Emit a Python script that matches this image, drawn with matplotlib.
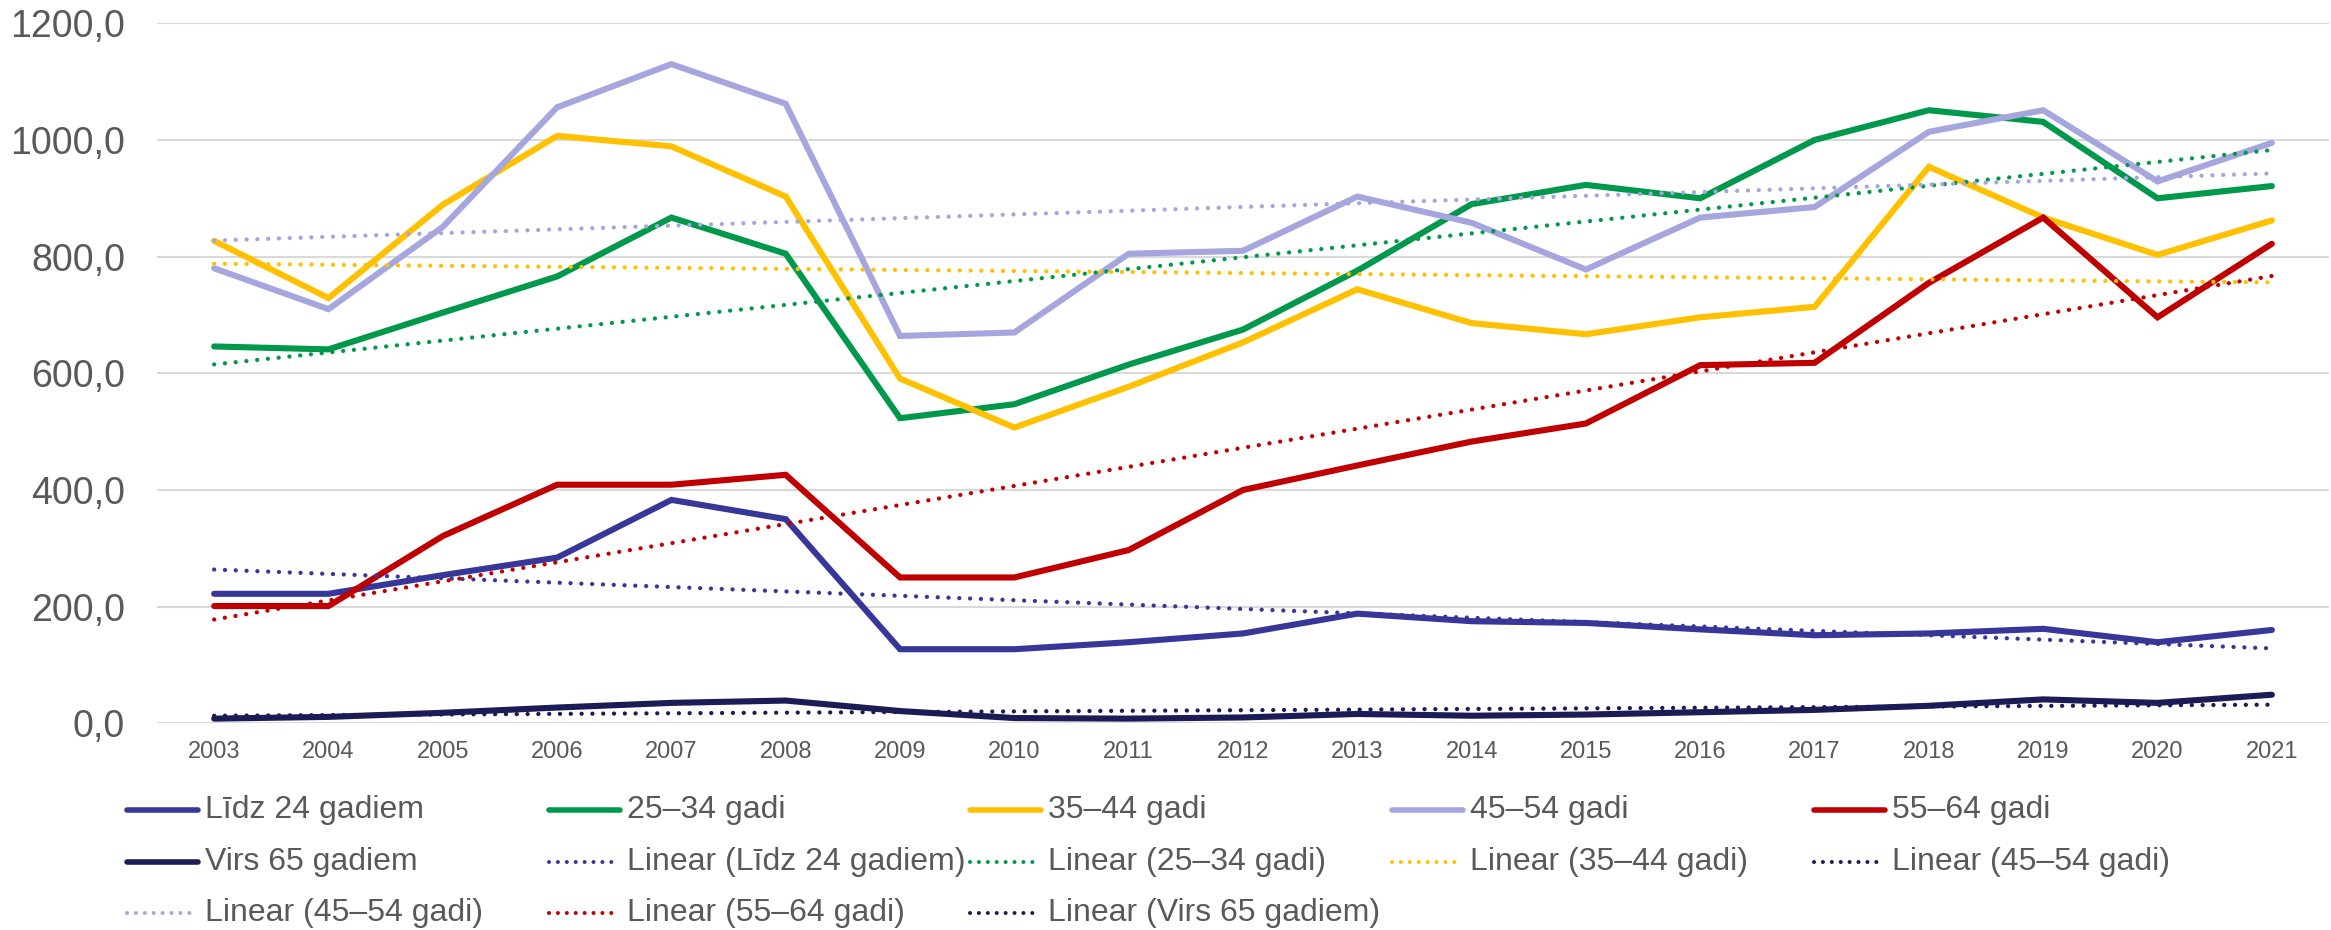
import numpy as np
import matplotlib
matplotlib.use('Agg')
import matplotlib.pyplot as plt
from matplotlib.lines import Line2D

# ---- data ----
years = [str(y) for y in range(2003, 2022)]
lidz24 = [222, 222, 254, 284, 383, 350, 127, 127, 139, 154, 188, 175, 172, 161, 151, 154, 162, 139, 160]
g25_34 = [646, 641, 704, 766, 867, 805, 523, 547, 615, 675, 776, 890, 923, 900, 1000, 1051, 1031, 900, 921]
g35_44 = [827, 729, 889, 1007, 989, 903, 591, 507, 577, 653, 744, 686, 667, 696, 714, 954, 867, 803, 862]
g45_54 = [780, 710, 851, 1056, 1130, 1062, 664, 670, 805, 810, 903, 858, 778, 867, 885, 1014, 1051, 929, 995]
g55_64 = [201, 201, 321, 409, 409, 426, 250, 250, 297, 400, 442, 483, 514, 614, 618, 755, 867, 696, 822]
virs65 = [8, 11, 18, 27, 35, 39, 21, 9, 8, 10, 16, 13, 15, 19, 23, 30, 41, 35, 49]

names = ["Līdz 24 gadiem", "25–34 gadi", "35–44 gadi", "45–54 gadi", "55–64 gadi", "Virs 65 gadiem"]
series = [lidz24, g25_34, g35_44, g45_54, g55_64, virs65]
colors = ["#373799", "#00994C", "#FFC000", "#A6A6DF", "#C00000", "#1B1B55"]
yticks = [0, 200, 400, 600, 800, 1000, 1200]

W, H = 2331, 930
plt.rcParams['font.family'] = ['Liberation Sans', 'DejaVu Sans']
fig = plt.figure(figsize=(W / 100, H / 100), dpi=100)
ax = fig.add_axes([157 / W, 1 - 723.3 / H, (2329 - 157) / W, (723.3 - 23.3) / H])

x = np.arange(len(years))
for vals, c in zip(series, colors):
    ax.plot(x, vals, color=c, lw=4.4, solid_capstyle='round', solid_joinstyle='miter', zorder=3)

dot = (0, (0.01, 2.5))
for vals, c in zip(series, colors):
    k, b = np.polyfit(x, np.array(vals, float), 1)
    ax.plot(x, k * x + b, color=c, lw=3.1, linestyle=dot, dash_capstyle='round', zorder=4)

ax.set_xlim(-0.5, len(years) - 0.5)
ax.set_ylim(0, 1200)
ax.set_yticks(yticks)
ax.set_yticklabels([f"{v:.1f}".replace('.', ',') for v in yticks])
ax.set_xticks(x)
ax.set_xticklabels(years)
ax.tick_params(axis='y', length=0, pad=23, labelsize=27, labelcolor='#595959')
ax.tick_params(axis='x', length=0, pad=13, labelsize=17, labelcolor='#595959')
for s in ax.spines.values():
    s.set_visible(False)
ax.grid(axis='y', color='#D9D9D9', lw=1.5, zorder=0)
ax.set_axisbelow(True)

# ---- legend (row-major like the original) ----
entries = [
    ("Līdz 24 gadiem", colors[0], 'solid'),
    ("25–34 gadi", colors[1], 'solid'),
    ("35–44 gadi", colors[2], 'solid'),
    ("45–54 gadi", colors[3], 'solid'),
    ("55–64 gadi", colors[4], 'solid'),
    ("Virs 65 gadiem", colors[5], 'solid'),
    ("Linear (Līdz 24 gadiem)", colors[0], 'dot'),
    ("Linear (25–34 gadi)", colors[1], 'dot'),
    ("Linear (35–44 gadi)", colors[2], 'dot'),
    ("Linear (45–54 gadi)", colors[5], 'dot'),
    ("Linear (45–54 gadi)", colors[3], 'dot'),
    ("Linear (55–64 gadi)", colors[4], 'dot'),
    ("Linear (Virs 65 gadiem)", colors[5], 'dot'),
]
col_x = [127, 549, 970, 1392, 1814]
row_y = [810, 862, 913]
hl = 71
for i, (lab, c, st) in enumerate(entries):
    r, cidx = divmod(i, 5)
    x0 = col_x[cidx]
    y0 = row_y[r]
    xs = [x0 / W, (x0 + hl) / W]
    ys = [1 - y0 / H, 1 - y0 / H]
    if st == 'solid':
        ln = Line2D(xs, ys, transform=fig.transFigure, color=c, lw=4.0, solid_capstyle='round')
    else:
        ln = Line2D(xs, ys, transform=fig.transFigure, color=c, lw=2.9,
                    linestyle=(0, (0.01, 2.2)), dash_capstyle='round')
    fig.add_artist(ln)
    fig.text((x0 + hl + 7) / W, 1 - y0 / H, lab, fontsize=23, color='#595959',
             ha='left', va='center')

fig.savefig('out.png', dpi=100)
